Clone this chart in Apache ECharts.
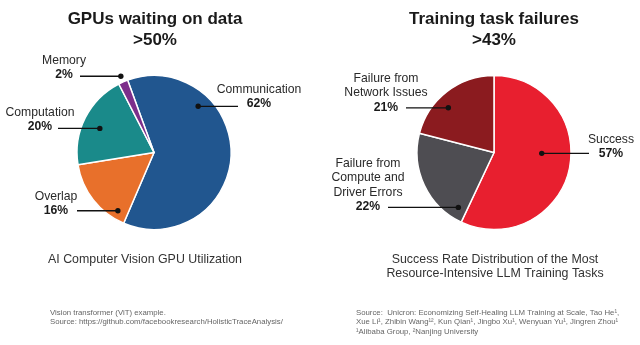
<!DOCTYPE html>
<html><head><meta charset="utf-8">
<script src="https://cdn.jsdelivr.net/npm/echarts@6/dist/echarts.min.js"></script>
<style>html,body{margin:0;padding:0;background:#fff}#c{width:640px;height:345px}</style>
</head><body><div id="c"></div>
<script>
// ---- data ----
const gpuCategories = ['Communication', 'Overlap', 'Computation', 'Memory'];
const gpuValues = [62, 16, 20, 2];
const taskCategories = ['Success', 'Failure from Compute and Driver Errors', 'Failure from Network Issues'];
const taskValues = [57, 22, 21];
const gpuLabelText = ['Communication', 'Overlap', 'Computation', 'Memory'];
const taskLabelText = ['Success', 'Failure from\nCompute and\nDriver Errors', 'Failure from\nNetwork Issues'];

// ---- style / layout ----
const gpuColors = ['#21568f', '#e8702b', '#1a8a8a', '#7c2e8b'];
const taskColors = ['#e81f2f', '#4e4d52', '#8b1b1f'];
const FONT = '"Liberation Sans", Arial, sans-serif';
const pieL = { cx: 154, cy: 152.5, r: 77, start: 110 };
const pieR = { cx: 494, cy: 152.5, r: 77, start: 90 };
// anchor (dot) for each slice: [degrees clockwise from 12 o'clock, fraction of radius]
const gpuAnchors = [[43.7, 0.83], [211.8, 0.89], [294, 0.77], [336.5, 1.08]];
const taskAnchors = [[91, 0.62], [213, 0.85], [314.4, 0.83]];
// label placement: [center x, top y, line end x]
const gpuLabelPos = [[259, 82, 238], [56, 189, 77], [40, 105, 58], [64, 53, 80]];
const taskLabelPos = [[611, 132, 589], [368, 156, 388], [386, 71, 406]];

function anchorPx(p, a) {
  const t = a[0] * Math.PI / 180;
  return [p.cx + Math.sin(t) * a[1] * p.r, p.cy - Math.cos(t) * a[1] * p.r];
}

function makeSeries(p, cats, vals, colors, texts, pos) {
  return {
    type: 'pie', center: [p.cx, p.cy], radius: p.r, startAngle: p.start, clockwise: true,
    avoidLabelOverlap: false, silent: true, animation: false,
    itemStyle: { borderColor: '#fff', borderWidth: 1.5 },
    data: cats.map((c, i) => ({ name: c, value: vals[i], itemStyle: { color: colors[i] } })),
    label: {
      show: true, position: 'outside',
      formatter: (prm) => {
        const t = texts[prm.dataIndex].split('\n').map(s => '{n|' + s + '}').join('\n');
        return t + '\n{b|' + prm.value + '%}';
      },
      rich: {
        n: { fontFamily: FONT, fontSize: 12.2, color: '#2a2a2a', lineHeight: 14.5, align: 'center' },
        b: { fontFamily: FONT, fontSize: 12.2, fontWeight: 'bold', color: '#1a1a1a', lineHeight: 14.5, align: 'center' }
      }
    },
    labelLine: { show: false },
    labelLayout: (prm) => {
      const q = pos[prm.dataIndex];
      return { x: q[0], y: q[1], align: 'center', verticalAlign: 'top' };
    }
  };
}

// leader lines and dots (annotations) from slice anchors to label positions
const annot = [];
[[pieL, gpuAnchors, gpuLabelPos], [pieR, taskAnchors, taskLabelPos]].forEach(([p, an, pos]) => {
  an.forEach((a, i) => {
    const d = anchorPx(p, a);
    const q = pos[i];
    annot.push({ type: 'polyline', shape: { points: [d, [q[2], d[1]]] }, style: { stroke: '#111', lineWidth: 1.3, fill: null }, z: 99 });
    annot.push({ type: 'circle', shape: { cx: d[0], cy: d[1], r: 2.7 }, style: { fill: '#111' }, z: 100 });
  });
});

const titleStyle = { fontFamily: FONT, fontSize: 17, fontWeight: 'bold', color: '#1a1a1a', lineHeight: 21 };
const subStyle = { fontFamily: FONT, fontSize: 12.4, fontWeight: 'normal', color: '#333', lineHeight: 14.5 };
const noteStyle = { fontFamily: FONT, fontSize: 7.8, fontWeight: 'normal', color: '#666', lineHeight: 9.8 };

const chart = echarts.init(document.getElementById('c'), null, { renderer: 'canvas' });
chart.setOption({
  backgroundColor: '#fff',
  animation: false,
  title: [
    { text: 'GPUs waiting on data\n>50%', left: 155, top: 9, padding: 0, textAlign: 'center', textStyle: titleStyle },
    { text: 'Training task failures\n>43%', left: 494, top: 9, padding: 0, textAlign: 'center', textStyle: titleStyle },
    { text: 'AI Computer Vision GPU Utilization', left: 145, top: 252, padding: 0, textAlign: 'center', textStyle: subStyle },
    { text: 'Success Rate Distribution of the Most\nResource-Intensive LLM Training Tasks', left: 495, top: 252, padding: 0, textAlign: 'center', textStyle: subStyle },
    { text: 'Vision transformer (ViT) example.\nSource: https://github.com/facebookresearch/HolisticTraceAnalysis/', left: 50, top: 307.5, padding: 0, textStyle: noteStyle },
    { text: 'Source:  Unicron: Economizing Self-Healing LLM Training at Scale, Tao He\u00b9,\nXue Li\u00b9, Zhibin Wang\u00b9\u00b2, Kun Qian\u00b9, Jingbo Xu\u00b9, Wenyuan Yu\u00b9, Jingren Zhou\u00b9\n\u00b9Alibaba Group, \u00b2Nanjing University', left: 356, top: 307.5, padding: 0, textStyle: noteStyle }
  ],
  series: [
    makeSeries(pieL, gpuCategories, gpuValues, gpuColors, gpuLabelText, gpuLabelPos),
    makeSeries(pieR, taskCategories, taskValues, taskColors, taskLabelText, taskLabelPos)
  ],
  graphic: annot
});
</script></body></html>
